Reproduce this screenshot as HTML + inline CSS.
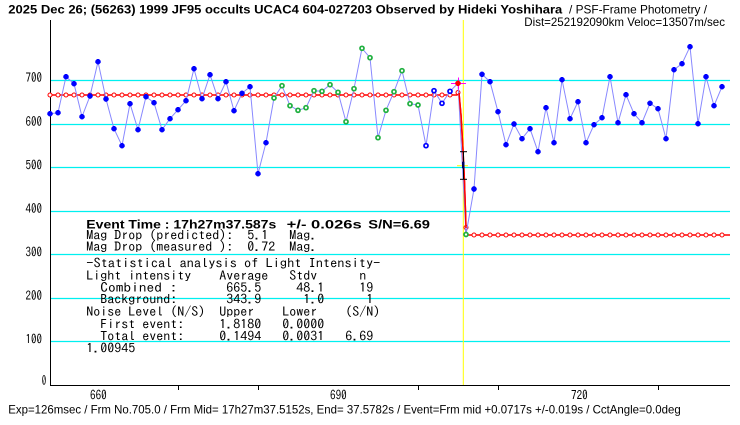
<!DOCTYPE html>
<html><head><meta charset="utf-8"><style>
html,body{margin:0;padding:0;background:#fff;}
svg{display:block;}
.b{font-family:"Liberation Sans",sans-serif;font-weight:bold;font-size:12px;fill:#000;}
.n{font-family:"Liberation Sans",sans-serif;font-size:12px;fill:#000;}
.m{font-family:"IPAGothic","Liberation Mono",monospace;font-size:13px;fill:#000;}
.ax{font-family:"IPAGothic","Liberation Mono",monospace;font-size:13px;fill:#000;}
</style></head><body>
<svg width="740" height="425" viewBox="0 0 740 425" xmlns="http://www.w3.org/2000/svg">
<rect width="740" height="425" fill="#fff"/>
<g stroke="#00f0f0" stroke-width="1.2">
<line x1="51" y1="80.5" x2="730" y2="80.5"/>
<line x1="51" y1="124.5" x2="730" y2="124.5"/>
<line x1="51" y1="167.5" x2="730" y2="167.5"/>
<line x1="51" y1="211.5" x2="730" y2="211.5"/>
<line x1="51" y1="254.5" x2="730" y2="254.5"/>
<line x1="51" y1="298.5" x2="730" y2="298.5"/>
<line x1="51" y1="341.5" x2="730" y2="341.5"/>
</g>
<line x1="50.5" y1="20" x2="50.5" y2="386" stroke="#000" stroke-width="1"/>
<line x1="50" y1="385.5" x2="730" y2="385.5" stroke="#000" stroke-width="1"/>
<g stroke="#000" stroke-width="1">
<line x1="178.5" y1="385" x2="178.5" y2="390"/>
<line x1="258.5" y1="385" x2="258.5" y2="390"/>
<line x1="418.5" y1="385" x2="418.5" y2="390"/>
<line x1="498.5" y1="385" x2="498.5" y2="390"/>
<line x1="658.5" y1="385" x2="658.5" y2="390"/>
</g>
<line x1="463.3" y1="20" x2="463.3" y2="385" stroke="#ffff00" stroke-width="1"/>
<g class="ax" text-anchor="end">
<text x="42" y="82" textLength="16.5" lengthAdjust="spacingAndGlyphs">700</text>
<text x="42" y="126" textLength="16.5" lengthAdjust="spacingAndGlyphs">600</text>
<text x="42" y="169.5" textLength="16.5" lengthAdjust="spacingAndGlyphs">500</text>
<text x="42" y="213" textLength="16.5" lengthAdjust="spacingAndGlyphs">400</text>
<text x="42" y="256.5" textLength="16.5" lengthAdjust="spacingAndGlyphs">300</text>
<text x="42" y="300" textLength="16.5" lengthAdjust="spacingAndGlyphs">200</text>
<text x="42" y="343.5" textLength="16.5" lengthAdjust="spacingAndGlyphs">100</text>
</g>
<text class="ax" x="41.8" y="385" textLength="4.5" lengthAdjust="spacingAndGlyphs">0</text>
<text class="ax" x="90" y="399.3" textLength="16.7" lengthAdjust="spacingAndGlyphs">660</text>
<text class="ax" x="330" y="399.3" textLength="16.7" lengthAdjust="spacingAndGlyphs">690</text>
<text class="ax" x="571" y="399.3" textLength="16.7" lengthAdjust="spacingAndGlyphs">720</text>

<path d="M50,95 H457 L459,93 L461,115 L463,150 L464.5,182 L465.5,212 L466,228 L466,235 H730" fill="none" stroke="#ff0000" stroke-width="1.5"/>
<g fill="#fff" stroke="#ff0000" stroke-width="1">
<circle cx="50" cy="95" r="2"/><circle cx="58" cy="95" r="2"/><circle cx="66" cy="95" r="2"/><circle cx="74" cy="95" r="2"/><circle cx="82" cy="95" r="2"/><circle cx="90" cy="95" r="2"/><circle cx="98" cy="95" r="2"/><circle cx="106" cy="95" r="2"/><circle cx="114" cy="95" r="2"/><circle cx="122" cy="95" r="2"/><circle cx="130" cy="95" r="2"/><circle cx="138" cy="95" r="2"/><circle cx="146" cy="95" r="2"/><circle cx="154" cy="95" r="2"/><circle cx="162" cy="95" r="2"/><circle cx="170" cy="95" r="2"/><circle cx="178" cy="95" r="2"/><circle cx="186" cy="95" r="2"/><circle cx="194" cy="95" r="2"/><circle cx="202" cy="95" r="2"/><circle cx="210" cy="95" r="2"/><circle cx="218" cy="95" r="2"/><circle cx="226" cy="95" r="2"/><circle cx="234" cy="95" r="2"/><circle cx="242" cy="95" r="2"/><circle cx="250" cy="95" r="2"/><circle cx="258" cy="95" r="2"/><circle cx="266" cy="95" r="2"/><circle cx="274" cy="95" r="2"/><circle cx="282" cy="95" r="2"/><circle cx="290" cy="95" r="2"/><circle cx="298" cy="95" r="2"/><circle cx="306" cy="95" r="2"/><circle cx="314" cy="95" r="2"/><circle cx="322" cy="95" r="2"/><circle cx="330" cy="95" r="2"/><circle cx="338" cy="95" r="2"/><circle cx="346" cy="95" r="2"/><circle cx="354" cy="95" r="2"/><circle cx="362" cy="95" r="2"/><circle cx="370" cy="95" r="2"/><circle cx="378" cy="95" r="2"/><circle cx="386" cy="95" r="2"/><circle cx="394" cy="95" r="2"/><circle cx="402" cy="95" r="2"/><circle cx="410" cy="95" r="2"/><circle cx="418" cy="95" r="2"/><circle cx="426" cy="95" r="2"/><circle cx="434" cy="95" r="2"/><circle cx="442" cy="95" r="2"/><circle cx="450" cy="95" r="2"/>
<circle cx="458" cy="92.5" r="2"/><circle cx="466" cy="227.5" r="2"/>
<circle cx="474" cy="235" r="2"/><circle cx="482" cy="235" r="2"/><circle cx="490" cy="235" r="2"/><circle cx="498" cy="235" r="2"/><circle cx="506" cy="235" r="2"/><circle cx="514" cy="235" r="2"/><circle cx="522" cy="235" r="2"/><circle cx="530" cy="235" r="2"/><circle cx="538" cy="235" r="2"/><circle cx="546" cy="235" r="2"/><circle cx="554" cy="235" r="2"/><circle cx="562" cy="235" r="2"/><circle cx="570" cy="235" r="2"/><circle cx="578" cy="235" r="2"/><circle cx="586" cy="235" r="2"/><circle cx="594" cy="235" r="2"/><circle cx="602" cy="235" r="2"/><circle cx="610" cy="235" r="2"/><circle cx="618" cy="235" r="2"/><circle cx="626" cy="235" r="2"/><circle cx="634" cy="235" r="2"/><circle cx="642" cy="235" r="2"/><circle cx="650" cy="235" r="2"/><circle cx="658" cy="235" r="2"/><circle cx="666" cy="235" r="2"/><circle cx="674" cy="235" r="2"/><circle cx="682" cy="235" r="2"/><circle cx="690" cy="235" r="2"/><circle cx="698" cy="235" r="2"/><circle cx="706" cy="235" r="2"/><circle cx="714" cy="235" r="2"/><circle cx="722" cy="235" r="2"/>
</g>

<polyline fill="none" stroke="#8888ff" stroke-width="1" points="50,113.7 58,112.7 66,76.7 74,83.7 82,116.7 90,96 98,61.7 106,99 114,128.7 122,145.7 130,103.7 138,129.7 146,96.7 154,102.7 162,129.7 170,118.7 178,109.7 186,100.7 194,68.7 202,98.7 210,74.7 218,98.7 226,81.7 234,110.7 242,93.3 250,86.7 258,173.7 266,142.7 274,98 282,85.7 290,105.7 298,110.3 306,107.7 314,90.7 322,91.3 330,84.7 338,92.3 346,121.7 354,88.7 362,48.3 370,57.7 378,137.7 386,110.3 394,91.7 402,70.7 410,103.7 418,105 426,145.7 434,90.7 442,103.3 450,91.3 458,83.3 466,234.5 474,189 482,74.3 490,81.7 498,111.7 506,144.7 514,124 522,138.7 530,128.7 538,151.7 546,107.7 554,142.7 562,79.7 570,118.7 578,101.7 586,142.7 594,124.7 602,117.7 610,76.7 618,122.7 626,94.7 634,113.7 642,122.7 650,103.3 658,108.7 666,138.7 674,69.7 682,63.7 690,46.7 698,123.7 706,76.7 714,105.7 722,86.7"/>

<path d="M459,93 L461,115 L463,150 L464.5,182 L465.5,212 L466,228" fill="none" stroke="#ff0000" stroke-width="1.5"/>

<path fill="#0000ff" d="M49,111h2l1.7,1.7v2l-1.7,1.7h-2l-1.7,-1.7v-2z M57,110h2l1.7,1.7v2l-1.7,1.7h-2l-1.7,-1.7v-2z M65,74h2l1.7,1.7v2l-1.7,1.7h-2l-1.7,-1.7v-2z M73,81h2l1.7,1.7v2l-1.7,1.7h-2l-1.7,-1.7v-2z M81,114h2l1.7,1.7v2l-1.7,1.7h-2l-1.7,-1.7v-2z M89,93.3h2l1.7,1.7v2l-1.7,1.7h-2l-1.7,-1.7v-2z M97,59h2l1.7,1.7v2l-1.7,1.7h-2l-1.7,-1.7v-2z M105,96.3h2l1.7,1.7v2l-1.7,1.7h-2l-1.7,-1.7v-2z M113,126h2l1.7,1.7v2l-1.7,1.7h-2l-1.7,-1.7v-2z M121,143h2l1.7,1.7v2l-1.7,1.7h-2l-1.7,-1.7v-2z M129,101h2l1.7,1.7v2l-1.7,1.7h-2l-1.7,-1.7v-2z M137,127h2l1.7,1.7v2l-1.7,1.7h-2l-1.7,-1.7v-2z M145,94h2l1.7,1.7v2l-1.7,1.7h-2l-1.7,-1.7v-2z M153,100h2l1.7,1.7v2l-1.7,1.7h-2l-1.7,-1.7v-2z M161,127h2l1.7,1.7v2l-1.7,1.7h-2l-1.7,-1.7v-2z M169,116h2l1.7,1.7v2l-1.7,1.7h-2l-1.7,-1.7v-2z M177,107h2l1.7,1.7v2l-1.7,1.7h-2l-1.7,-1.7v-2z M185,98h2l1.7,1.7v2l-1.7,1.7h-2l-1.7,-1.7v-2z M193,66h2l1.7,1.7v2l-1.7,1.7h-2l-1.7,-1.7v-2z M201,96h2l1.7,1.7v2l-1.7,1.7h-2l-1.7,-1.7v-2z M209,72h2l1.7,1.7v2l-1.7,1.7h-2l-1.7,-1.7v-2z M217,96h2l1.7,1.7v2l-1.7,1.7h-2l-1.7,-1.7v-2z M225,79h2l1.7,1.7v2l-1.7,1.7h-2l-1.7,-1.7v-2z M233,108h2l1.7,1.7v2l-1.7,1.7h-2l-1.7,-1.7v-2z M241,90.6h2l1.7,1.7v2l-1.7,1.7h-2l-1.7,-1.7v-2z M249,84h2l1.7,1.7v2l-1.7,1.7h-2l-1.7,-1.7v-2z M257,171h2l1.7,1.7v2l-1.7,1.7h-2l-1.7,-1.7v-2z M265,140h2l1.7,1.7v2l-1.7,1.7h-2l-1.7,-1.7v-2z
M473,186.3h2l1.7,1.7v2l-1.7,1.7h-2l-1.7,-1.7v-2z M481,71.6h2l1.7,1.7v2l-1.7,1.7h-2l-1.7,-1.7v-2z M489,79h2l1.7,1.7v2l-1.7,1.7h-2l-1.7,-1.7v-2z M497,109h2l1.7,1.7v2l-1.7,1.7h-2l-1.7,-1.7v-2z M505,142h2l1.7,1.7v2l-1.7,1.7h-2l-1.7,-1.7v-2z M513,121.3h2l1.7,1.7v2l-1.7,1.7h-2l-1.7,-1.7v-2z M521,136h2l1.7,1.7v2l-1.7,1.7h-2l-1.7,-1.7v-2z M529,126h2l1.7,1.7v2l-1.7,1.7h-2l-1.7,-1.7v-2z M537,149h2l1.7,1.7v2l-1.7,1.7h-2l-1.7,-1.7v-2z M545,105h2l1.7,1.7v2l-1.7,1.7h-2l-1.7,-1.7v-2z M553,140h2l1.7,1.7v2l-1.7,1.7h-2l-1.7,-1.7v-2z M561,77h2l1.7,1.7v2l-1.7,1.7h-2l-1.7,-1.7v-2z M569,116h2l1.7,1.7v2l-1.7,1.7h-2l-1.7,-1.7v-2z M577,99h2l1.7,1.7v2l-1.7,1.7h-2l-1.7,-1.7v-2z M585,140h2l1.7,1.7v2l-1.7,1.7h-2l-1.7,-1.7v-2z M593,122h2l1.7,1.7v2l-1.7,1.7h-2l-1.7,-1.7v-2z M601,115h2l1.7,1.7v2l-1.7,1.7h-2l-1.7,-1.7v-2z M609,74h2l1.7,1.7v2l-1.7,1.7h-2l-1.7,-1.7v-2z M617,120h2l1.7,1.7v2l-1.7,1.7h-2l-1.7,-1.7v-2z M625,92h2l1.7,1.7v2l-1.7,1.7h-2l-1.7,-1.7v-2z M633,111h2l1.7,1.7v2l-1.7,1.7h-2l-1.7,-1.7v-2z M641,120h2l1.7,1.7v2l-1.7,1.7h-2l-1.7,-1.7v-2z M649,100.6h2l1.7,1.7v2l-1.7,1.7h-2l-1.7,-1.7v-2z M657,106h2l1.7,1.7v2l-1.7,1.7h-2l-1.7,-1.7v-2z M665,136h2l1.7,1.7v2l-1.7,1.7h-2l-1.7,-1.7v-2z M673,67h2l1.7,1.7v2l-1.7,1.7h-2l-1.7,-1.7v-2z M681,61h2l1.7,1.7v2l-1.7,1.7h-2l-1.7,-1.7v-2z M689,44h2l1.7,1.7v2l-1.7,1.7h-2l-1.7,-1.7v-2z M697,121h2l1.7,1.7v2l-1.7,1.7h-2l-1.7,-1.7v-2z M705,74h2l1.7,1.7v2l-1.7,1.7h-2l-1.7,-1.7v-2z M713,103h2l1.7,1.7v2l-1.7,1.7h-2l-1.7,-1.7v-2z M721,84h2l1.7,1.7v2l-1.7,1.7h-2l-1.7,-1.7v-2z"/>

<g fill="#fff" stroke="#20b040" stroke-width="1.7">
<circle cx="274" cy="98" r="2"/><circle cx="282" cy="85.7" r="2"/><circle cx="290" cy="105.7" r="2"/><circle cx="298" cy="110.3" r="2"/><circle cx="306" cy="107.7" r="2"/><circle cx="314" cy="90.7" r="2"/><circle cx="322" cy="91.3" r="2"/><circle cx="330" cy="84.7" r="2"/><circle cx="338" cy="92.3" r="2"/><circle cx="346" cy="121.7" r="2"/><circle cx="354" cy="88.7" r="2"/><circle cx="362" cy="48.3" r="2"/><circle cx="370" cy="57.7" r="2"/><circle cx="378" cy="137.7" r="2"/><circle cx="386" cy="110.3" r="2"/><circle cx="394" cy="91.7" r="2"/><circle cx="402" cy="70.7" r="2"/><circle cx="410" cy="103.7" r="2"/><circle cx="418" cy="105" r="2"/>
<circle cx="466" cy="234.5" r="2"/>
</g>
<g fill="#fff" stroke="#0000ff" stroke-width="1.7">
<circle cx="426" cy="145.7" r="2"/><circle cx="434" cy="90.7" r="2"/><circle cx="442" cy="103.3" r="2"/><circle cx="450" cy="91.3" r="2"/>
</g>
<g stroke="#ff00ff" stroke-width="1">
<line x1="451" y1="83.5" x2="466" y2="83.5"/>
<line x1="458.5" y1="77.5" x2="458.5" y2="89.5"/>
</g>
<path fill="#ff0000" d="M457,80.6h2l1.7,1.7v2l-1.7,1.7h-2l-1.7,-1.7v-2z"/>
<g stroke="#000" stroke-width="1">
<line x1="463.5" y1="151.7" x2="463.5" y2="179.3"/>
<line x1="460" y1="151.7" x2="467" y2="151.7"/>
<line x1="460" y1="179.3" x2="467" y2="179.3"/>
</g>
<line x1="457" y1="165.7" x2="468" y2="165.7" stroke="#ffff00" stroke-width="1"/>
<rect x="462" y="161.7" width="2.5" height="6.6" fill="#000060"/>

<text class="b" x="8.3" y="13.5" textLength="554" lengthAdjust="spacingAndGlyphs">2025 Dec 26; (56263) 1999 JF95 occults UCAC4 604-027203 Observed by Hideki Yoshihara</text>
<text class="n" x="569" y="13.5" textLength="138" lengthAdjust="spacingAndGlyphs">/ PSF-Frame Photometry /</text>
<text class="n" x="524.3" y="26" textLength="200.7" lengthAdjust="spacingAndGlyphs">Dist=252192090km Veloc=13507m/sec</text>

<text class="b" x="86.3" y="228.3" textLength="190" lengthAdjust="spacingAndGlyphs">Event Time : 17h27m37.587s</text>
<text class="b" x="286.7" y="228.3" textLength="75" lengthAdjust="spacingAndGlyphs">+/- 0.026s</text>
<text class="b" x="368.3" y="228.3" textLength="61.7" lengthAdjust="spacingAndGlyphs">S/N=6.69</text>

<g class="m">
<text x="86.3" y="239.5" textLength="147" lengthAdjust="spacingAndGlyphs">Mag Drop (predicted):</text>
<text x="247.3" y="239.5" textLength="21" lengthAdjust="spacingAndGlyphs">5.1</text>
<text x="289.3" y="239.5" textLength="28" lengthAdjust="spacingAndGlyphs">Mag.</text>
<text x="86.3" y="251" textLength="147" lengthAdjust="spacingAndGlyphs">Mag Drop (measured ):</text>
<text x="247.3" y="251" textLength="28" lengthAdjust="spacingAndGlyphs">0.72</text>
<text x="289.3" y="251" textLength="28" lengthAdjust="spacingAndGlyphs">Mag.</text>

<text x="86.3" y="267.5" textLength="294" lengthAdjust="spacingAndGlyphs">-Statistical analysis of Light Intensity-</text>
<text x="86.3" y="280" textLength="105" lengthAdjust="spacingAndGlyphs">Light intensity</text>
<text x="219.3" y="280" textLength="49" lengthAdjust="spacingAndGlyphs">Average</text>
<text x="289.3" y="280" textLength="28" lengthAdjust="spacingAndGlyphs">Stdv</text>
<text x="359.3" y="280" textLength="7" lengthAdjust="spacingAndGlyphs">n</text>

<text x="100.3" y="292" textLength="77" lengthAdjust="spacingAndGlyphs">Combined  :</text>
<text x="226.3" y="292" textLength="35" lengthAdjust="spacingAndGlyphs">665.5</text>
<text x="296.3" y="292" textLength="28" lengthAdjust="spacingAndGlyphs">48.1</text>
<text x="359.3" y="292" textLength="14" lengthAdjust="spacingAndGlyphs">19</text>

<text x="100.3" y="303.5" textLength="77" lengthAdjust="spacingAndGlyphs">Background:</text>
<text x="226.3" y="303.5" textLength="35" lengthAdjust="spacingAndGlyphs">343.9</text>
<text x="303.3" y="303.5" textLength="21" lengthAdjust="spacingAndGlyphs">1.0</text>
<text x="366.3" y="303.5" textLength="7" lengthAdjust="spacingAndGlyphs">1</text>

<text x="86.3" y="316" textLength="119" lengthAdjust="spacingAndGlyphs">Noise Level (N/S)</text>
<text x="219.3" y="316" textLength="35" lengthAdjust="spacingAndGlyphs">Upper</text>
<text x="282.3" y="316" textLength="35" lengthAdjust="spacingAndGlyphs">Lower</text>
<text x="345.3" y="316" textLength="35" lengthAdjust="spacingAndGlyphs">(S/N)</text>

<text x="100.3" y="328.5" textLength="84" lengthAdjust="spacingAndGlyphs">First event:</text>
<text x="219.3" y="328.5" textLength="42" lengthAdjust="spacingAndGlyphs">1.8180</text>
<text x="282.3" y="328.5" textLength="42" lengthAdjust="spacingAndGlyphs">0.0000</text>

<text x="100.3" y="340.7" textLength="84" lengthAdjust="spacingAndGlyphs">Total event:</text>
<text x="219.3" y="340.7" textLength="42" lengthAdjust="spacingAndGlyphs">0.1494</text>
<text x="282.3" y="340.7" textLength="42" lengthAdjust="spacingAndGlyphs">0.0031</text>
<text x="345.3" y="340.7" textLength="28" lengthAdjust="spacingAndGlyphs">6.69</text>

<text x="86.3" y="352.7" textLength="49" lengthAdjust="spacingAndGlyphs">1.00945</text>
</g>

<text class="n" x="8.3" y="413.3" textLength="672.4" lengthAdjust="spacingAndGlyphs">Exp=126msec / Frm No.705.0 / Frm Mid= 17h27m37.5152s,  End= 37.5782s / Event=Frm mid +0.0717s +/-0.019s / CctAngle=0.0deg</text>
</svg>
</body></html>
